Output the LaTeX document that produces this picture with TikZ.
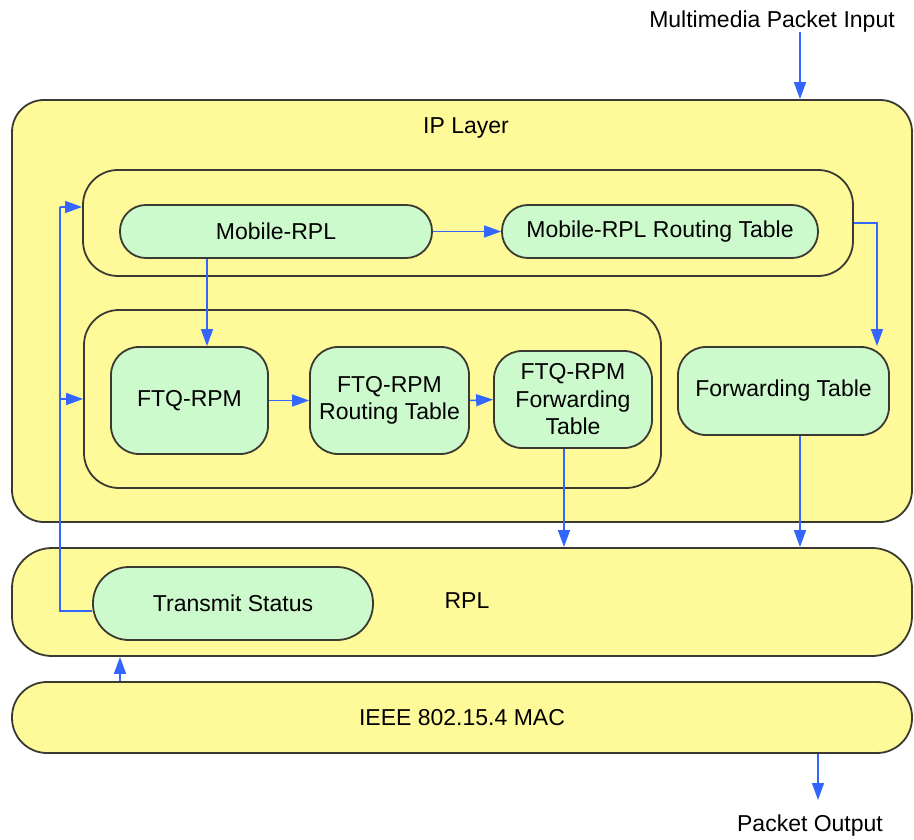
\documentclass[tikz,border=0pt]{standalone}
\usepackage{fontspec}
\setmainfont{Liberation Sans}
\usetikzlibrary{arrows.meta}
\definecolor{layeryellow}{HTML}{FFFA99}
\definecolor{procgreen}{HTML}{CCFACC}
\definecolor{edgegray}{HTML}{3A3A32}
\definecolor{linkblue}{HTML}{3366FF}
\begin{document}
\begin{tikzpicture}[x=1pt,y=-1pt,
  txt/.style={inner sep=0pt, align=center, font=\fontsize{23}{27.5}\selectfont},
  box/.style={txt, draw=edgegray, line width=1.8pt},
  layer/.style={box, fill=layeryellow},
  proc/.style={box, fill=procgreen},
  link/.style={draw=linkblue, line width=1.5pt, -{Triangle[length=17pt,width=12pt]}},
  linkline/.style={draw=linkblue, line width=1.5pt}]
\useasboundingbox (0,0) rectangle (914,840);
% layers
\node[layer, rounded corners=32pt, minimum width=900pt, minimum height=422pt] (ip) at (462,311) {};
\node[txt] (iplabel) at (466,128) {IP Layer};
\node[layer, rounded corners=40pt, minimum width=900pt, minimum height=108pt] (rpl) at (462,602) {};
\node[layer, rounded corners=35pt, minimum width=900pt, minimum height=71pt] (mac) at (462,717.5) {IEEE 802.15.4 MAC};
% groups
\node[layer, rounded corners=35pt, minimum width=770pt, minimum height=106pt] (g1) at (468,223) {};
\node[layer, rounded corners=35pt, minimum width=577pt, minimum height=178pt] (g2) at (372.5,399) {};
% processes
\node[proc, rounded corners=26pt, minimum width=312pt, minimum height=53pt] (mrpl) at (276,231.5) {Mobile-RPL};
\node[proc, rounded corners=26pt, minimum width=316pt, minimum height=53pt] (mtab) at (660,231.5) {Mobile-RPL Routing Table};
\node[proc, rounded corners=28pt, minimum width=157pt, minimum height=107pt] (ftq) at (189.5,400.5) {FTQ-RPM};
\node[proc, rounded corners=28pt, minimum width=159pt, minimum height=107pt] (ftqrt) at (389.5,400.5) {FTQ-RPM\\Routing Table};
\node[proc, rounded corners=28pt, minimum width=158pt, minimum height=97pt] (ftqfw) at (573,399.5) {FTQ-RPM\\Forwarding\\Table};
\node[proc, rounded corners=28pt, minimum width=211pt, minimum height=88pt] (ftab) at (783.5,391) {Forwarding Table};
\node[proc, rounded corners=36pt, minimum width=280pt, minimum height=73pt] (ts) at (233,603.5) {Transmit Status};
\node[txt] (rpllabel) at (467,601) {RPL};
% outside labels
\node[txt] (inlabel) at (772,22) {Multimedia Packet Input};
\node[txt] (outlabel) at (810,826) {Packet Output};
% helper coordinates
\coordinate (inx) at (800,32);
\coordinate (dropx) at (877,0);
\coordinate (mdown) at (207,0);
\coordinate (fwx) at (564,0);
\coordinate (ftx) at (800,0);
\coordinate (fbtop) at (60,207);
\coordinate (fbmid) at (60,399);
\coordinate (fbbot) at (60,611);
\coordinate (upx) at (120,0);
\coordinate (outx) at (818,0);
\coordinate (outend) at (818,800);
% connectors
\draw[link] (inx) -- (ip.north -| inx);
\draw[link] (mrpl.east) -- (mtab.west);
\draw[link] (g1.east) -| (ftab.north -| dropx);
\draw[link] (mrpl.south -| mdown) -- (ftq.north -| mdown);
\draw[link] (ftq.east) -- (ftqrt.west);
\draw[link] (ftqrt.east) -- (ftqfw.west);
\draw[link] (ftqfw.south -| fwx) -- (rpl.north -| fwx);
\draw[link] (ftab.south -| ftx) -- (rpl.north -| ftx);
\draw[linkline] (ts.west |- fbbot) -- (fbbot) -- (fbtop);
\draw[link] (fbtop) -- (g1.west |- fbtop);
\draw[link] (fbmid) -- (g2.west |- fbmid);
\draw[link] (mac.north -| upx) -- (rpl.south -| upx);
\draw[link] (mac.south -| outx) -- (outend);
\end{tikzpicture}
\end{document}
